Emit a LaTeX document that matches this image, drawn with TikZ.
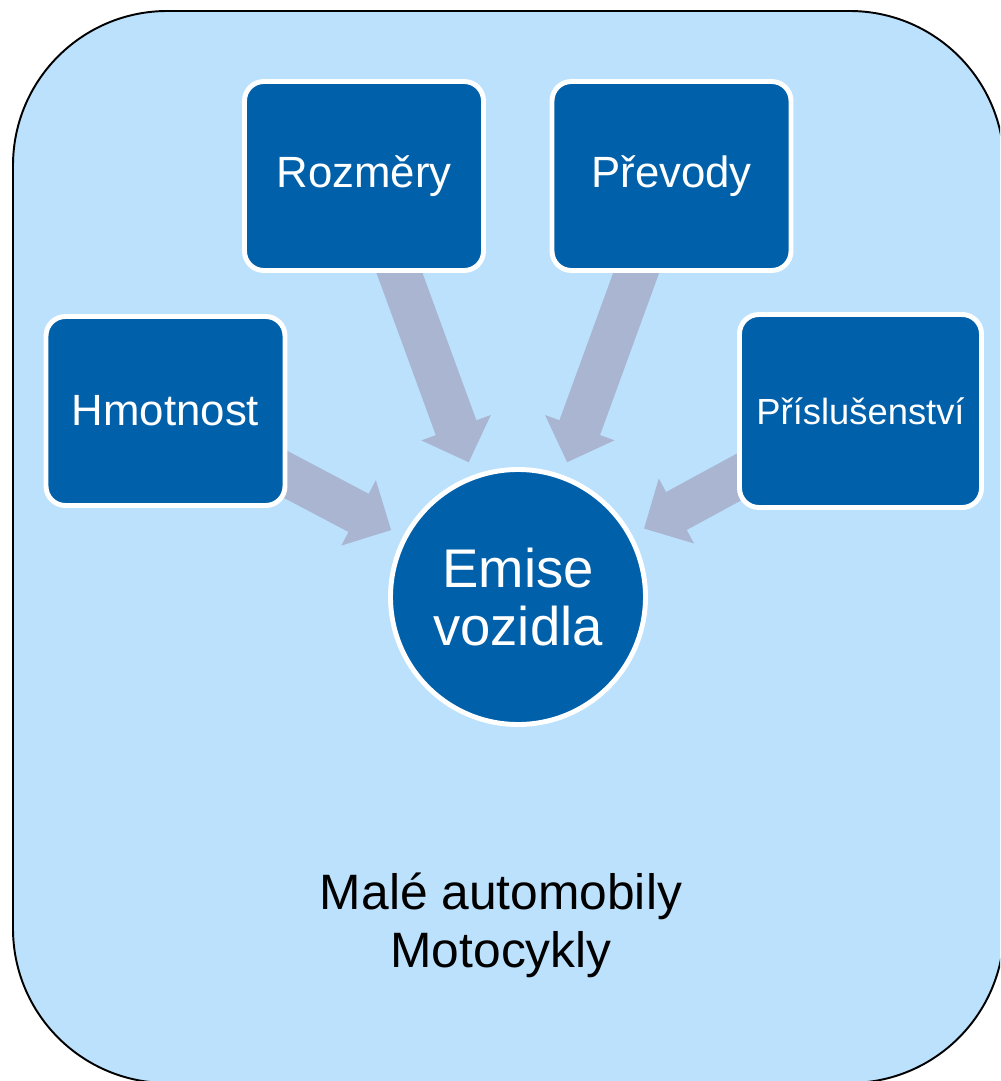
\documentclass[tikz,border=0pt]{standalone}
\usepackage{fontspec}
\setmainfont{Liberation Sans}
\usetikzlibrary{arrows.meta,calc}
\pgfdeclarelayer{bg}
\pgfsetlayers{bg,main}

\definecolor{panelfill}{RGB}{187,225,253}
\definecolor{boxblue}{RGB}{0,96,170}
\definecolor{arrowgray}{RGB}{169,181,209}

\tikzset{
  factorbox/.style={draw=white, line width=2.8pt, fill=boxblue, text=white,
    rounded corners=11pt, minimum width=239*0.02cm, minimum height=189*0.02cm,
    inner sep=0pt, font=\fontsize{24.9}{28}\selectfont},
  hubcircle/.style={circle, draw=white, line width=2.8pt, fill=boxblue, text=white,
    minimum size=255*0.02cm, inner sep=0pt, align=center,
    font=\fontsize{31}{33}\selectfont},
  fatarrow/.style={draw=arrowgray, line width=24.6pt,
    -{Triangle[width=40.8pt, length=21pt]}},
}

\begin{document}
\begin{tikzpicture}[x=0.02cm, y=-0.02cm]
  \useasboundingbox (0,0) rectangle (1000,1081);

  % rounded panel behind everything
  \begin{pgfonlayer}{bg}
    \clip (0,0) rectangle (1000,1081);
    \draw[line width=1.1pt, fill=panelfill, rounded corners=87.9pt]
      (13,11) rectangle (1004,1083);
  \end{pgfonlayer}

  % factors and the central node
  \node[factorbox] (roz) at (364,176) {Rozměry};
  \node[factorbox] (pre) at (671.5,176) {Převody};
  \node[factorbox] (hmo) at (165.5,411) {Hmotnost};
  \node[factorbox, minimum width=242*0.02cm, minimum height=193*0.02cm,
        font=\fontsize{20.7}{24}\selectfont] (pri) at (860.5,411) {Příslušenství};
  \node[hubcircle] (emi) at (518,597) {Emise\\vozidla};

  % thick arrows pointing at the circle, under the boxes
  \begin{pgfonlayer}{bg}
    \foreach \src in {roz,pre,hmo,pri}
      \draw[fatarrow] (\src.center) -- ($(emi.center)!81.6pt!(\src.center)$);
  \end{pgfonlayer}

  % caption
  \node[align=center, font=\fontsize{28.3}{33}\selectfont] (cap) at (501,925)
    {Malé automobily\\Motocykly};
\end{tikzpicture}
\end{document}
